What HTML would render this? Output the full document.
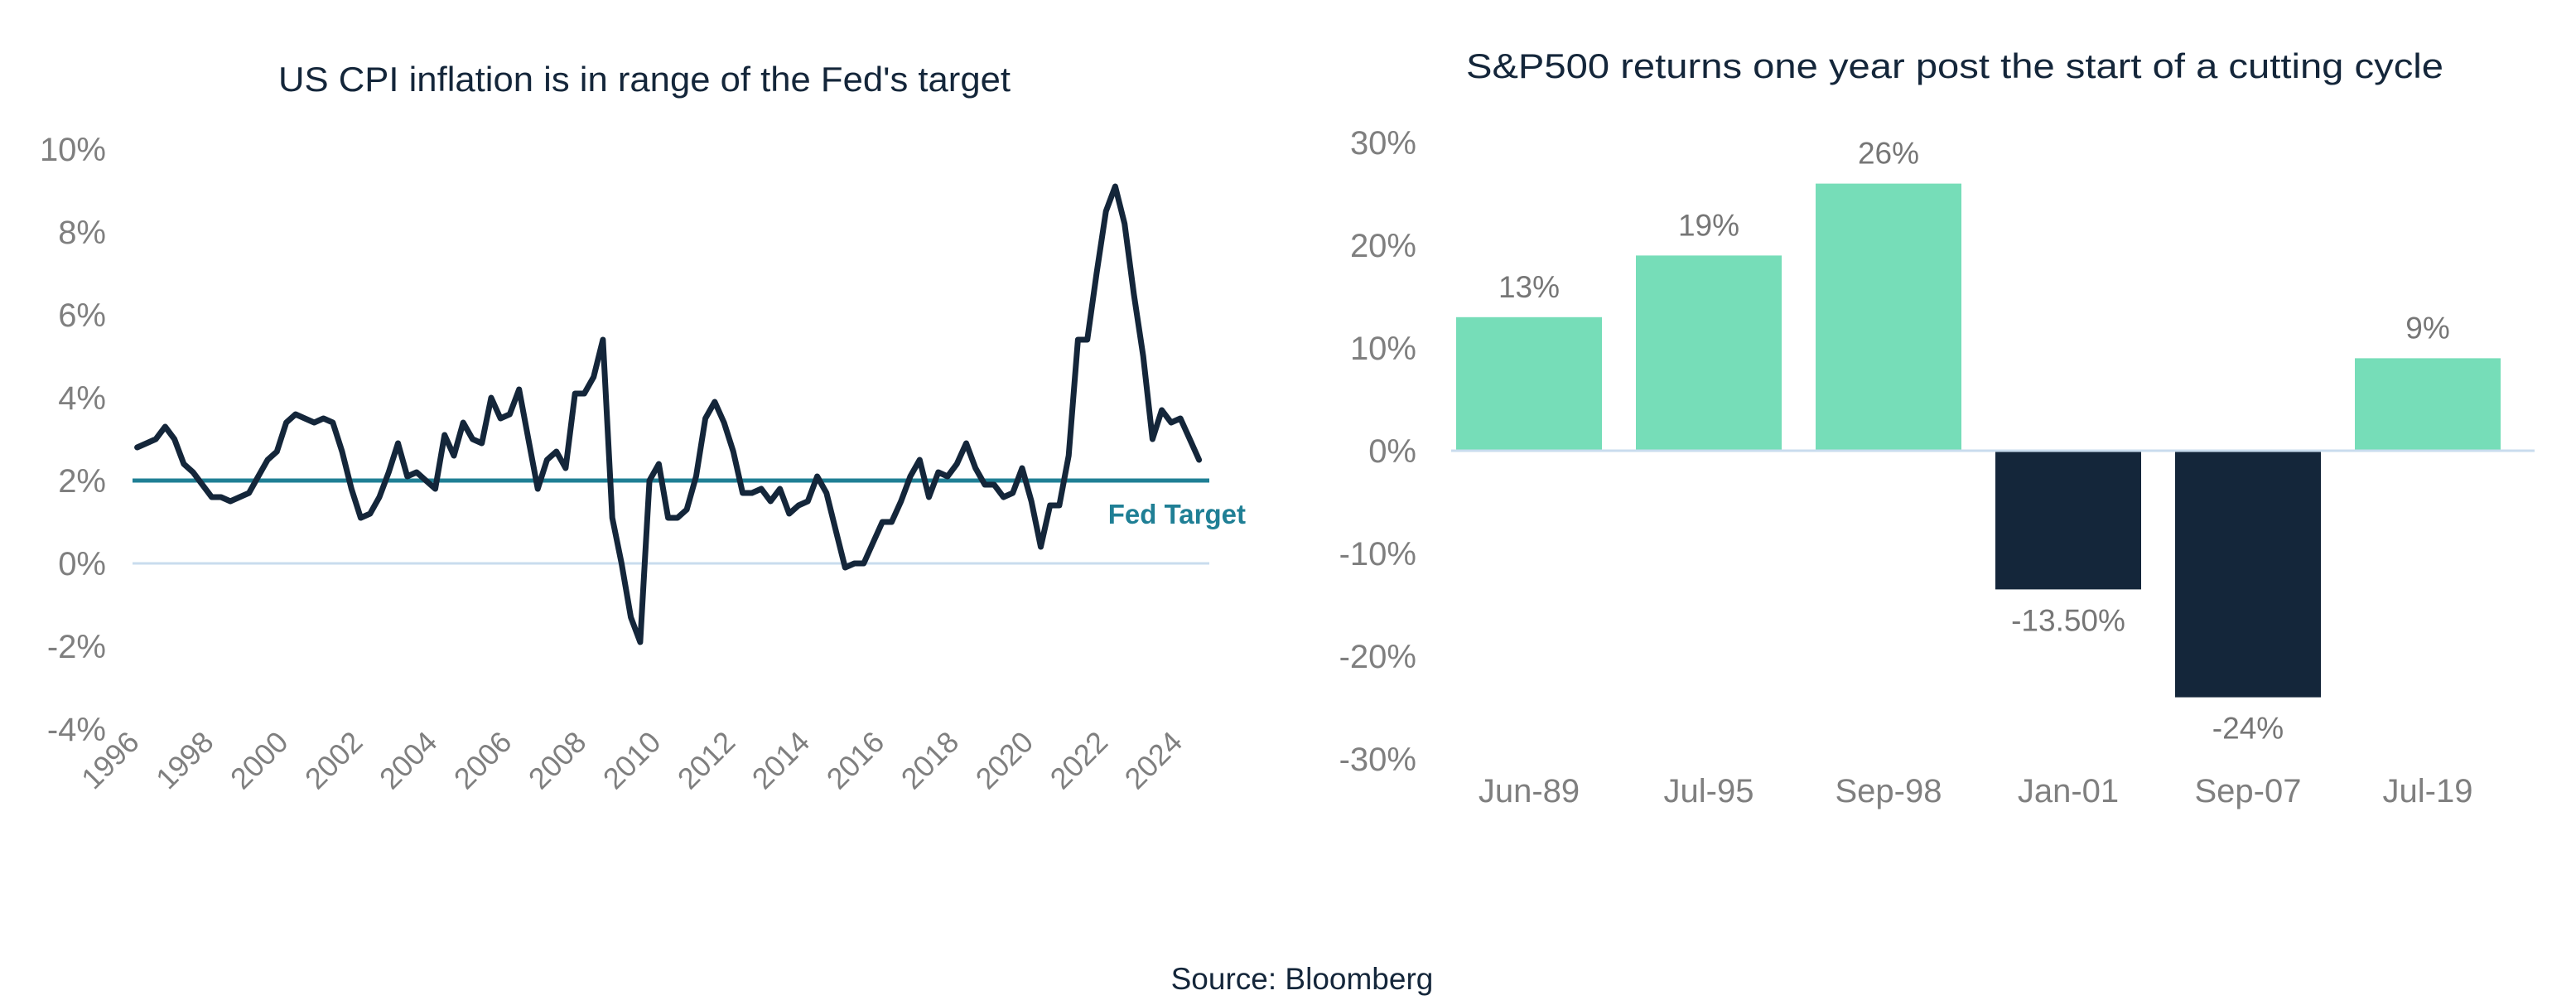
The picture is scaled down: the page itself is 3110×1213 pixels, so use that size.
<!DOCTYPE html>
<html><head><meta charset="utf-8"><style>
body{margin:0;background:#fff;}
svg{display:block;font-family:"Liberation Sans",Arial,sans-serif;}
</style></head><body>
<svg id="c" width="3110" height="1213" viewBox="0 0 3110 1213">
<text x="778" y="110" font-size="42" fill="#14263a" text-anchor="middle" textLength="884" lengthAdjust="spacingAndGlyphs">US CPI inflation is in range of the Fed's target</text>
<text x="2360" y="94" font-size="42" fill="#14263a" text-anchor="middle" textLength="1180" lengthAdjust="spacingAndGlyphs">S&amp;P500 returns one year post the start of a cutting cycle</text>
<text x="1572" y="1194" font-size="37" fill="#14263a" text-anchor="middle">Source: Bloomberg</text>
<g id="left"></g><g id="right"></g>
</svg>
<script>
const cpiStartYear=1996;
const cpiQuarterly=[2.8,2.9,3.0,3.3, 3.0,2.4,2.2,1.9, 1.6,1.6,1.5,1.6, 1.7,2.1,2.5,2.7,
3.4,3.6,3.5,3.4, 3.5,3.4,2.7,1.8, 1.1,1.2,1.6,2.2, 2.9,2.1,2.2,2.0,
1.8,3.1,2.6,3.4, 3.0,2.9,4.0,3.5, 3.6,4.2,3.0,1.8, 2.5,2.7,2.3,4.1,
4.1,4.5,5.4,1.1, 0.0,-1.3,-1.9,2.0, 2.4,1.1,1.1,1.3, 2.1,3.5,3.9,3.4,
2.7,1.7,1.7,1.8, 1.5,1.8,1.2,1.4, 1.5,2.1,1.7,0.8, -0.1,0.0,0.0,0.5,
1.0,1.0,1.5,2.1, 2.5,1.6,2.2,2.1, 2.4,2.9,2.3,1.9, 1.9,1.6,1.7,2.3,
1.5,0.4,1.4,1.4, 2.6,5.4,5.4,7.0, 8.5,9.1,8.2,6.5, 5.0,3.0,3.7,3.4, 3.5,3.0,2.5];
const cpiTicks=[-4,-2,0,2,4,6,8,10];
const yearTicks=[1996,1998,2000,2002,2004,2006,2008,2010,2012,2014,2016,2018,2020,2022,2024];
const fedTarget=2;
const barCats=["Jun-89","Jul-95","Sep-98","Jan-01","Sep-07","Jul-19"];
const barVals=[13,19,26,-13.5,-24,9];
const barLabels=["13%","19%","26%","-13.50%","-24%","9%"];
const barTicks=[-30,-20,-10,0,10,20,30];

const NS="http://www.w3.org/2000/svg";
function mk(p,t,a,txt){const e=document.createElementNS(NS,t);for(const k in a)e.setAttribute(k,a[k]);if(txt!==undefined)e.textContent=txt;p.appendChild(e);return e;}
const L=document.getElementById('left'),R=document.getElementById('right');
const lx=y=>160+(y-1996)*(1300/28.9);
const ly=v=>680-v*50;
cpiTicks.forEach(t=>{const e=mk(L,'text',{x:128,y:ly(t)+14,'font-size':40,fill:'#7f7f7f','text-anchor':'end'},t+'%');

});
yearTicks.forEach(y=>{const x=lx(y),yy=898;const e=mk(L,'text',{x:x+10,y:yy,'font-size':36,fill:'#7f7f7f','text-anchor':'end',transform:`rotate(-45 ${x+10} ${yy})`},String(y));

});
let zl=mk(L,'line',{x1:160,x2:1460,y1:ly(0),y2:ly(0),stroke:'#c9dcee','stroke-width':3});


let fl=mk(L,'line',{x1:160,x2:1460,y1:ly(fedTarget),y2:ly(fedTarget),stroke:'#1f7f95','stroke-width':5});


let ft=mk(L,'text',{x:1504,y:632,'font-size':33,'font-weight':'bold',fill:'#1f7f95','text-anchor':'end'},'Fed Target');


const pts=cpiQuarterly.map((v,i)=>lx(cpiStartYear+i/4+0.125).toFixed(1)+','+ly(v).toFixed(1));
let cl=mk(L,'polyline',{points:pts.join(' '),fill:'none',stroke:'#14263a','stroke-width':7,'stroke-linejoin':'round','stroke-linecap':'round'});



const ry=v=>544-v*12.4;
barTicks.forEach(t=>{const e=mk(R,'text',{x:1710,y:ry(t)+14,'font-size':40,fill:'#7f7f7f','text-anchor':'end'},t+'%');

});
barVals.forEach((v,i)=>{const x=1758+i*217,w=176;const y0=ry(0),y1=ry(v);
const b=mk(R,'rect',{x:x,y:Math.min(y0,y1),width:w,height:Math.abs(y1-y0),fill:v>=0?'#76ddb8':'#14263a'});


const ty=v>=0?y1-24:y1+50;
const l=mk(R,'text',{x:x+w/2,y:ty,'font-size':37,fill:'#767676','text-anchor':'middle'},barLabels[i]);


const c=mk(R,'text',{x:x+w/2,y:968,'font-size':40,fill:'#7f7f7f','text-anchor':'middle'},barCats[i]);

});
let ax=mk(R,'line',{x1:1752,x2:3060,y1:ry(0),y2:ry(0),stroke:'#c9dcee','stroke-width':3});


</script>
</body></html>
